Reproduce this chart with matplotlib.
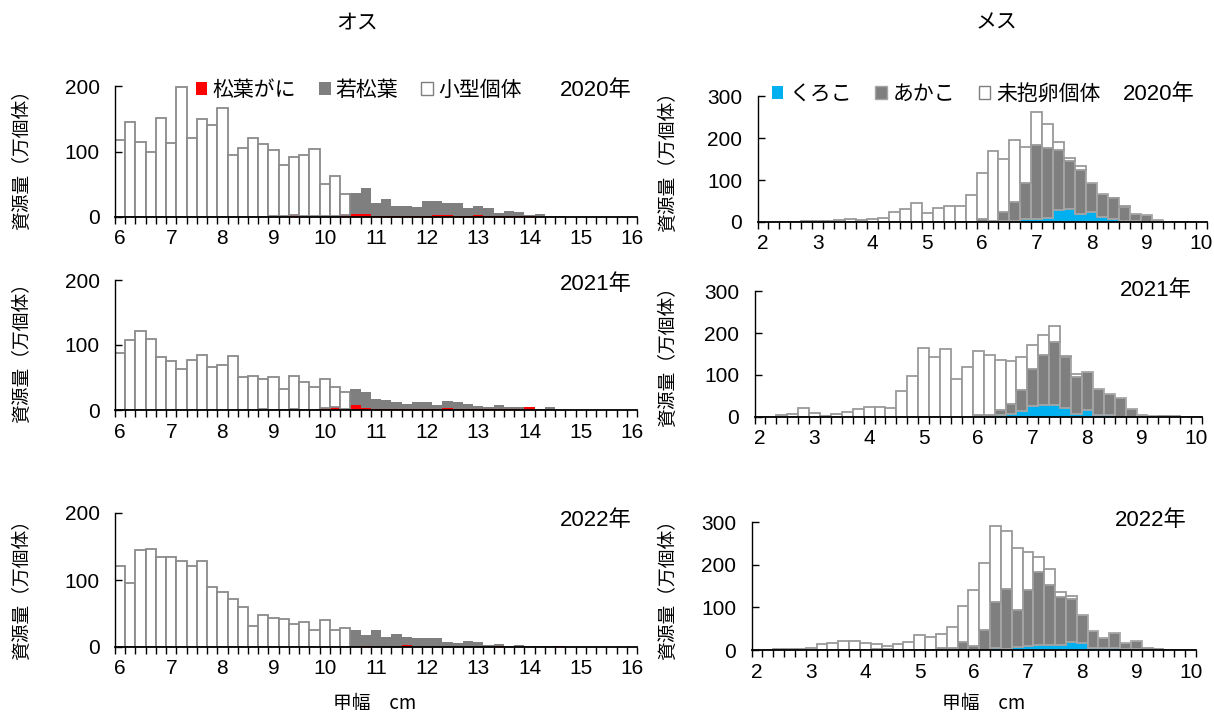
import numpy as np
import matplotlib
matplotlib.use("Agg")
import matplotlib.pyplot as plt
from matplotlib.patches import Patch

plt.rcParams['font.family'] = ['Noto Sans CJK JP', 'DejaVu Sans']
NUM_FONT = ['Liberation Sans Narrow', 'Liberation Sans', 'Noto Sans CJK JP']

# 甲幅 categories (left edge of each 0.2 cm class)
male_bins = np.round(np.arange(6.0, 16.01, 0.2), 1)    # 51 classes
female_bins = np.round(np.arange(2.0, 10.01, 0.2), 1)  # 41 classes

# オス: 松葉がに / 若松葉 / 小型個体 (万個体)
m2020_matsuba = [0, 0, 0, 0, 0, 0, 0, 0, 0, 0, 0, 0, 0, 0, 0,
                 2, 2, 3, 2, 2, 2, 2, 3, 5, 5, 2, 2, 2, 2, 1,
                 2, 3, 3, 2, 1, 3, 2, 2, 1, 1, 1, 0.5, 0.5, 0.5, 0.5,
                 0.5, 0, 0, 0, 0, 0]
m2020_waka = [0, 0, 0, 0, 0, 0, 0, 0, 0, 0, 0, 0, 0, 0, 0,
              0, 0, 0, 0, 0, 0, 0, 0, 32, 39, 19, 25, 15, 15, 15,
              23, 22, 19, 20, 12, 14, 11, 4, 8, 6, 2, 3.5, 0.5, 0.5, 0,
              0, 0.5, 0.5, 0.3, 0.3, 0.3]
m2020_small = [118, 145, 114, 100, 151, 113, 199, 121, 150, 141, 166, 94, 105, 120, 112,
               100, 77, 89, 93, 102, 49, 60, 32, 0, 0, 0, 0, 0, 0, 0,
               0, 0, 0, 0, 0, 0, 0, 0, 0, 0, 0, 0, 0, 0, 0,
               0, 0, 0, 0, 0, 0]

m2021_matsuba = [0, 0, 0, 0, 0, 0, 0, 0, 0, 0, 0, 0, 0, 0, 0,
                 0, 0, 0, 0, 0, 3, 4, 2, 8, 3, 1, 2, 1, 1, 2,
                 1, 1, 3, 1, 2, 2, 1, 2, 1, 1, 4, 0.5, 0.5, 0, 0,
                 0, 0.5, 0, 0, 0, 0]
m2021_waka = [0, 0, 0, 0, 0, 0, 0, 0, 0, 0, 0, 0, 0, 0, 1,
              0, 0, 1, 0, 0, 0, 1, 0, 24, 24, 16, 13, 11, 8, 10,
              12, 7, 11, 12, 8, 4, 3, 5, 4, 4, 0, 0.5, 4.5, 0.5, 0.3,
              0.3, 0, 0.3, 0.3, 0.3, 0.3]
m2021_small = [88, 107, 122, 109, 81, 75, 63, 77, 85, 66, 69, 83, 51, 53, 46,
               51, 33, 51, 43, 36, 45, 31, 26, 0, 0, 0, 0, 0, 0, 0,
               0, 0, 0, 0, 0, 0, 0, 0, 0, 0, 0, 0, 0, 0, 0,
               0, 0, 0, 0, 0, 0]

m2022_matsuba = [0, 0, 0, 0, 0, 0, 0, 0, 0, 0, 0, 0, 0, 0, 0,
                 0, 0, 0, 0, 0, 0, 0, 0, 0, 1, 0, 0, 0, 2.5, 0,
                 0.5, 0, 0, 0.5, 0, 0, 0, 2, 0, 0, 0.5, 0, 0, 1, 0,
                 0, 0, 0, 0, 0, 0]
m2022_waka = [0, 0, 0, 0, 0, 0, 0, 0, 0, 0, 0, 0, 0, 0, 0,
              0, 0, 0, 0, 0, 0, 0, 0, 25, 17, 26, 15, 20, 12.5, 14,
              12.5, 13, 8, 5.5, 9, 7, 2.5, 2, 1.5, 2.5, 0.5, 1, 1.5, 0, 0.3,
              0.3, 0.3, 0.3, 0.3, 0.3, 0.3]
m2022_small = [121, 96, 145, 147, 135, 134, 128, 121, 129, 90, 82, 71, 59, 32, 48,
               43, 42, 35, 37, 26, 41, 26, 28, 0, 0, 0, 0, 0, 0, 0,
               0, 0, 0, 0, 0, 0, 0, 0, 0, 0, 0, 0, 0, 0, 0,
               0, 0, 0, 0, 0, 0]

# メス: くろこ / あかこ / 未抱卵個体 (万個体)
f2020_kuroko = [0, 0, 0, 0, 0, 0, 0, 0, 0, 0, 0, 0, 0, 0, 0, 0, 0, 0, 0, 0,
                0, 0, 3, 2.5, 6, 8, 10, 29, 32, 20, 23, 13, 7, 3, 1.5, 1, 0.5, 0, 0, 0, 0]
f2020_akako = [0, 0, 0, 0, 0, 0, 0, 0, 0, 0, 0, 0, 0, 0, 0, 0, 0, 0, 0, 1,
               6, 2, 20, 45.5, 88, 176, 167, 143, 114, 104, 69, 54, 49, 33, 16.5, 15, 4.5, 1, 0, 0, 0]
f2020_mihoran = [0, 0, 0.5, 0.5, 1.5, 1.5, 1.5, 4, 6, 5, 6, 10, 23, 30, 45, 22, 33, 38, 39, 64,
                 110, 166, 126, 148, 85, 79, 56, 19, 6, 9, 0, 0, 1, 1, 0, 0, 0, 0, 1, 1, 0]

f2021_kuroko = [0, 0, 0, 0, 0, 0, 0, 0, 0, 0, 0, 0, 0, 0, 0, 0, 0, 0, 0, 0,
                0, 0, 5, 8, 15, 27, 29, 28, 21, 8, 17, 5, 4, 0.5, 0, 0, 0, 0, 0, 0, 0]
f2021_akako = [0, 0, 0, 0, 0, 0, 0, 0, 0, 0, 0, 0, 0, 0, 0, 0, 0, 0, 0, 0,
               5, 5, 12, 23, 50, 87, 119, 150, 123, 88, 90, 61, 50, 44.5, 19, 5.5, 2.5, 2.5, 1, 0.5, 0]
f2021_mihoran = [0.5, 1, 4, 8, 22, 9, 2, 6, 13, 20, 23, 24, 21, 62, 98, 164, 144, 161, 90, 120,
                 152, 143, 119, 102, 77, 57, 47, 39, 1, 7, 0, 0, 0, 0, 0, 0, 0, 0.5, 0.5, 0.5, 0.5]

f2022_kuroko = [0, 0, 0, 0, 0, 0, 0, 0, 0, 0, 0, 0, 0, 0, 0, 0, 0, 0, 0, 0,
                0, 0, 5, 2, 7, 10, 11, 11, 11, 19, 17, 5.5, 5, 4, 3, 2, 0, 0, 0, 0, 0]
f2022_akako = [0, 0, 0, 0, 0, 0, 0, 0, 0, 0, 0, 2, 2, 0, 0, 0, 0, 5, 5, 18,
               10, 46, 108, 141, 87, 131, 172, 141, 113, 100, 64, 39.5, 23, 35, 14, 20, 2, 0, 0, 0, 0]
f2022_mihoran = [0, 0.5, 3, 3, 3, 4, 14, 16, 20, 20, 17, 13, 8, 13, 19, 34, 30, 32, 48, 85,
                 131, 157, 177, 136, 145, 89, 34, 39, 13, 8, 0, 0, 0, 0, 0, 0, 2, 1.5, 0.5, 0.5, 0.5]

years = ['2020年', '2021年', '2022年']
male_data = [(m2020_matsuba, m2020_waka, m2020_small),
             (m2021_matsuba, m2021_waka, m2021_small),
             (m2022_matsuba, m2022_waka, m2022_small)]
female_data = [(f2020_kuroko, f2020_akako, f2020_mihoran),
               (f2021_kuroko, f2021_akako, f2021_mihoran),
               (f2022_kuroko, f2022_akako, f2022_mihoran)]

W, H = 1214, 713
fig = plt.figure(figsize=(W / 100, H / 100), dpi=100)


def box(x0, x1, ytop, ybot):
    return [x0 / W, 1 - ybot / H, (x1 - x0) / W, (ybot - ytop) / H]


male_boxes = [(114.9, 637, 86, 217), (114.9, 637, 280, 410), (114.9, 637, 513, 647)]
female_boxes = [(757.5, 1206.6, 96, 222), (754.5, 1202, 291, 417), (751.6, 1196, 522, 650)]


def style_axis(ax, bins, ymax, yticks):
    lo, hi = bins[0], bins[-1] + 0.2
    ax.set_xlim(lo, hi)
    ax.set_ylim(0, ymax)
    for s in ['top', 'right']:
        ax.spines[s].set_visible(False)
    ax.spines['left'].set_linewidth(1.0)
    ax.spines['bottom'].set_linewidth(1.3)
    ax.set_xticks(np.append(bins, hi), minor=True)
    ints = [b for b in bins if abs(b - round(b)) < 1e-6]
    ax.set_xticks([b + 0.1 for b in ints])
    ax.set_xticklabels([str(int(round(b))) for b in ints], family=NUM_FONT, fontsize=15)
    ax.tick_params(axis='x', which='minor', direction='out', length=5, width=1)
    ax.tick_params(axis='x', which='major', length=0, pad=9)
    ax.set_yticks(yticks)
    ax.set_yticklabels([str(t) for t in yticks], family=NUM_FONT, fontsize=15)
    ax.tick_params(axis='y', direction='in', length=5, width=1, pad=11)


for i, (b, (red, grey, white)) in enumerate(zip(male_boxes, male_data)):
    ax = fig.add_axes(box(*b))
    red = np.array(red, float)
    grey = np.array(grey, float)
    white = np.array(white, float)
    ax.bar(male_bins, red, width=0.2, align='edge', color='#ff0000', linewidth=0)
    ax.bar(male_bins, grey, width=0.2, align='edge', bottom=red, color='#7f7f7f', linewidth=0)
    m = white > 0
    ax.bar(male_bins[m], white[m], width=0.2, align='edge', bottom=(red + grey)[m],
           facecolor='white', edgecolor='#8a8a8a', linewidth=1.3)
    style_axis(ax, male_bins, 200, [0, 100, 200])
    fig.text(632 / W, 1 - [90, 284, 521][i] / H, years[i], ha='right', va='center',
             fontsize=16, family=NUM_FONT)
    fig.text(22 / W, 1 - [155, 348, 585][i] / H, '資源量（万個体）', rotation=90,
             ha='center', va='center', fontsize=13.5)

for i, (b, (blue, grey, white)) in enumerate(zip(female_boxes, female_data)):
    ax = fig.add_axes(box(*b))
    blue = np.array(blue, float)
    grey = np.array(grey, float)
    white = np.array(white, float)
    ax.bar(female_bins, blue, width=0.2, align='edge', color='#00b0f0', linewidth=0)
    g = grey > 0
    ax.bar(female_bins[g], grey[g], width=0.2, align='edge', bottom=blue[g],
           facecolor='#7f7f7f', edgecolor='#a6a6a6', linewidth=1.3)
    m = white > 0
    ax.bar(female_bins[m], white[m], width=0.2, align='edge', bottom=(blue + grey)[m],
           facecolor='white', edgecolor='#9a9a9a', linewidth=1.3)
    style_axis(ax, female_bins, 300, [0, 100, 200, 300])
    fig.text([1195, 1192, 1187][i] / W, 1 - [95, 290, 521][i] / H, years[i], ha='right',
             va='center', fontsize=16, family=NUM_FONT)
    fig.text(668 / W, 1 - [157, 352, 585][i] / H, '資源量（万個体）', rotation=90,
             ha='center', va='center', fontsize=13.5)

male_handles = [Patch(facecolor='#ff0000', edgecolor='none'),
                Patch(facecolor='#7f7f7f', edgecolor='none'),
                Patch(facecolor='white', edgecolor='#7f7f7f')]
fig.legend(male_handles, ['松葉がに', '若松葉', '小型個体'], loc='center left',
           bbox_to_anchor=(196 / W, 1 - 90 / H), ncol=3, frameon=False, fontsize=15,
           handlelength=0.55, handleheight=0.55, handletextpad=0.25, columnspacing=1.1,
           borderpad=0, borderaxespad=0)
female_handles = [Patch(facecolor='#00b0f0', edgecolor='none'),
                  Patch(facecolor='#7f7f7f', edgecolor='#a6a6a6'),
                  Patch(facecolor='white', edgecolor='#7f7f7f')]
fig.legend(female_handles, ['くろこ', 'あかこ', '未抱卵個体'], loc='center left',
           bbox_to_anchor=(772 / W, 1 - 94 / H), ncol=3, frameon=False, fontsize=15,
           handlelength=0.55, handleheight=0.55, handletextpad=0.3, columnspacing=1.1,
           borderpad=0, borderaxespad=0)

fig.text(357 / W, 1 - 22 / H, 'オス', ha='center', va='center', fontsize=15)
fig.text(997 / W, 1 - 22 / H, 'メス', ha='center', va='center', fontsize=15)
fig.text(375 / W, 1 - 703 / H, '甲幅　cm', ha='center', va='center', fontsize=13.5)
fig.text(984 / W, 1 - 703 / H, '甲幅　cm', ha='center', va='center', fontsize=13.5)

fig.savefig('out.png', dpi=100)
